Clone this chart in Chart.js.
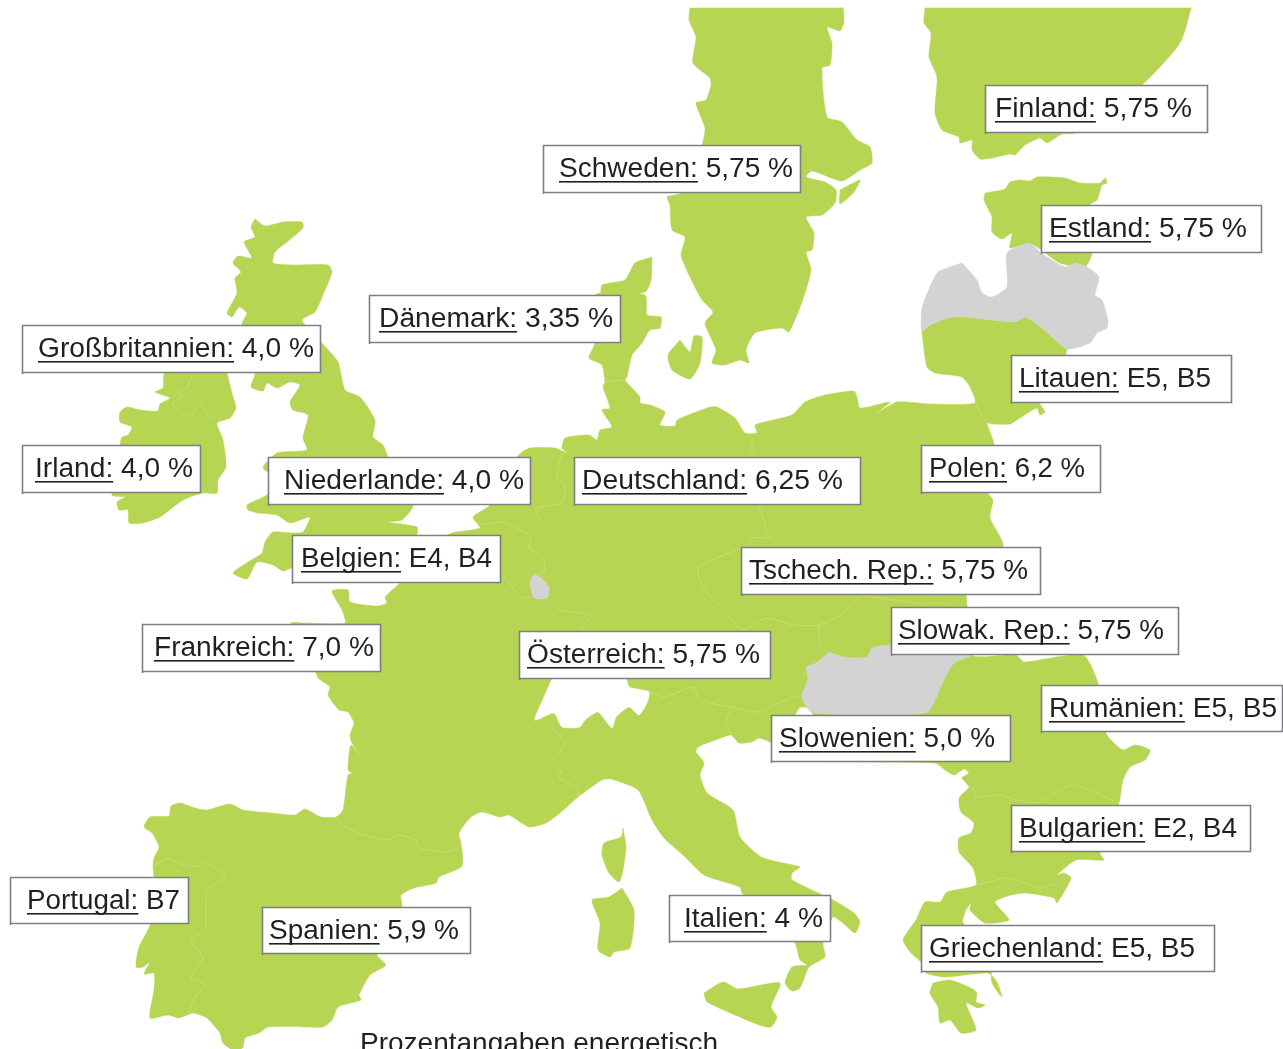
<!DOCTYPE html>
<html lang="de"><head><meta charset="utf-8">
<style>html,body{margin:0;padding:0;background:#fff;overflow:hidden}canvas{display:block}</style>
<script src="https://cdn.jsdelivr.net/npm/chart.js@4"></script>
</head><body><canvas id="c" width="1283" height="1049"></canvas>
<script>
// ---- outlines (map units = picture pixels) ----
const continent=[[605,382],[603,387],[610,408],[602,410],[612,427],[600,430],[597,440],[589,435],[565,438],[562,448],[567,453],[555,448],[530,448],[522,452],[510,465],[490,505],[473,517],[480,528],[452,533],[430,545],[400,583],[385,597],[387,603],[377,606],[350,602],[348,590],[332,591],[342,610],[345,623],[304,623],[291,623],[290,650],[316,673],[318,678],[330,687],[328,695],[339,710],[348,712],[354,723],[350,735],[352,743],[362,758],[351,745],[348,770],[352,773],[348,775],[343,810],[336,817],[321,817],[305,809],[295,815],[271,813],[243,810],[230,804],[207,810],[195,808],[180,803],[171,806],[169,816],[150,817],[144,827],[152,833],[159,847],[154,858],[153,867],[154,877],[150,925],[139,947],[136,967],[143,967],[150,962],[144,974],[154,973],[154,990],[150,1018],[168,1015],[179,1018],[193,1013],[207,1018],[216,1028],[220,1033],[223,1043],[236,1052],[243,1047],[245,1038],[259,1033],[268,1027],[307,1027],[323,1027],[332,1020],[338,1007],[361,1000],[359,995],[370,975],[386,965],[377,955],[395,930],[402,905],[401,895],[414,888],[436,883],[439,877],[462,866],[461,843],[459,833],[471,817],[482,812],[500,817],[509,815],[529,827],[546,823],[560,813],[578,797],[602,780],[611,779],[638,790],[652,820],[664,838],[683,855],[704,875],[740,887],[742,893],[770,920],[795,943],[800,960],[807,965],[792,967],[785,983],[792,991],[800,988],[809,967],[825,957],[823,943],[833,917],[845,925],[855,933],[860,922],[854,913],[833,900],[792,880],[792,873],[800,867],[783,863],[761,857],[740,837],[733,810],[707,793],[700,775],[704,763],[696,752],[698,747],[721,738],[731,735],[739,743],[752,742],[759,738],[772,743],[800,760],[935,763],[945,770],[954,775],[964,769],[969,773],[962,778],[969,787],[959,798],[961,812],[974,823],[971,833],[959,838],[959,852],[973,868],[976,885],[947,892],[940,902],[925,902],[916,920],[903,940],[911,953],[921,962],[926,973],[945,977],[988,973],[997,982],[1002,997],[992,983],[990,960],[963,923],[966,910],[971,903],[970,910],[985,923],[1009,920],[995,902],[1011,895],[1026,893],[1054,898],[1057,903],[1071,878],[1064,873],[1057,875],[1076,860],[1104,860],[1100,853],[1119,803],[1123,780],[1130,767],[1145,760],[1150,750],[1135,745],[1123,750],[1111,740],[1106,733],[1098,683],[1083,655],[1024,662],[1016,655],[972,655],[967,605],[967,593],[1003,546],[990,518],[993,500],[988,493],[994,445],[987,423],[992,424],[1010,424],[1020,418],[1037,408],[1040,415],[1045,412],[1040,403],[1067,349],[1042,328],[1025,317],[1015,322],[975,318],[952,317],[930,325],[922,332],[922,333],[927,367],[935,373],[962,377],[970,387],[975,403],[930,404],[897,402],[877,413],[890,402],[860,408],[857,397],[854,391],[825,395],[805,402],[792,415],[755,425],[757,433],[745,433],[735,418],[717,407],[710,407],[677,420],[675,426],[660,425],[665,412],[650,405],[640,403],[640,397],[625,380],[627,377],[632,355],[642,343],[650,330],[660,328],[661,317],[647,315],[645,295],[595,295],[595,343],[589,358],[602,365]];
const britain=[[255,219],[265,226],[283,222],[302,222],[303,228],[287,242],[275,252],[273,263],[293,265],[328,265],[332,272],[325,290],[315,312],[302,320],[322,343],[338,362],[345,390],[360,397],[375,420],[373,437],[383,445],[388,457],[413,505],[402,520],[388,522],[417,527],[417,535],[400,565],[292,568],[283,571],[273,565],[257,562],[247,579],[233,573],[248,562],[262,553],[265,542],[273,532],[292,533],[303,532],[310,517],[290,523],[277,515],[258,513],[248,510],[247,505],[267,495],[280,480],[263,468],[277,453],[307,450],[303,438],[308,415],[293,410],[290,402],[300,385],[290,382],[277,388],[267,383],[263,391],[251,387],[255,373],[242,324],[247,313],[239,307],[232,317],[227,313],[237,293],[235,278],[241,272],[233,263],[238,256],[252,258],[244,242],[255,237],[251,227]];
const ireland=[[227,373],[233,397],[236,408],[230,418],[217,423],[223,440],[226,467],[218,480],[217,493],[203,493],[183,500],[160,517],[143,523],[129,523],[128,510],[119,510],[117,502],[125,497],[112,495],[120,445],[122,437],[128,435],[132,427],[120,422],[120,412],[127,407],[140,410],[158,411],[160,404],[170,398],[155,392],[163,388],[165,373]];
const sweden=[[690,8],[689,20],[696,37],[693,63],[710,78],[711,85],[706,100],[696,103],[705,128],[702,145],[681,193],[675,195],[667,197],[670,205],[672,230],[685,237],[681,255],[689,275],[702,300],[713,312],[705,323],[716,350],[712,363],[725,365],[740,360],[749,363],[746,350],[755,333],[782,328],[789,332],[802,302],[811,270],[806,252],[812,250],[814,233],[806,217],[822,215],[835,203],[836,190],[825,182],[806,177],[812,171],[842,181],[860,170],[872,163],[870,147],[857,140],[842,122],[827,117],[822,68],[830,65],[832,43],[827,27],[840,31],[844,22],[843,8],[840,8],[693,8]];
const stockholmIsle=[[840,190],[860,180],[854,192],[840,204]];
const finland=[[925,8],[924,23],[931,33],[929,57],[937,77],[935,113],[942,130],[959,137],[960,143],[972,140],[972,150],[980,159],[992,158],[1010,154],[1015,155],[1025,145],[1040,138],[1047,143],[1062,134],[1075,133],[1142,85],[1180,43],[1191,8],[1188,8],[928,8]];
const estonia=[[985,193],[1005,189],[1010,182],[1020,180],[1030,181],[1037,177],[1065,178],[1080,183],[1100,183],[1105,178],[1107,183],[1102,185],[1097,200],[1090,205],[1092,253],[1085,267],[1060,263],[1030,243],[1010,248],[1012,233],[1002,239],[992,232],[992,217],[984,200]];
const zealand=[[652,257],[651,280],[645,292],[602,295],[602,285],[625,280],[635,263]];
const gotland=[[680,340],[690,352],[694,336],[702,337],[700,363],[690,379],[672,370],[668,355]];
const corsica=[[623,828],[626,847],[623,870],[619,882],[609,873],[602,855],[604,843],[621,837]];
const sardinia=[[622,888],[634,910],[630,948],[614,952],[610,957],[598,950],[600,923],[592,900],[609,897]];
const sicily=[[704,993],[723,982],[738,989],[780,983],[771,1007],[777,1017],[771,1027],[759,1025],[707,1002]];
const peloponnese=[[933,983],[950,980],[971,988],[977,993],[976,1002],[985,1005],[978,1008],[966,1003],[976,1030],[961,1033],[950,1020],[940,1023],[938,1007],[930,993]];
const latvia=[[962,263],[977,280],[982,293],[992,297],[1007,287],[1007,253],[1030,243],[1041,253],[1065,267],[1075,263],[1087,267],[1099,277],[1095,295],[1102,300],[1108,320],[1107,328],[1097,333],[1090,343],[1067,349],[1042,328],[1025,317],[1015,322],[975,318],[952,317],[930,325],[922,332],[922,308],[937,273],[950,267]];
const hungary=[[829,652],[844,657],[867,657],[872,648],[890,645],[972,655],[954,663],[944,680],[926,713],[813,713],[802,697],[808,678],[806,667],[816,663]];
const luxembourg=[[534,574],[540,577],[549,587],[547,598],[534,598],[530,583]];
const switzerland=[[552,679],[626,679],[629,687],[649,692],[647,703],[639,715],[629,707],[616,717],[612,728],[598,712],[585,720],[580,727],[562,727],[554,713],[535,720],[544,697]];
const adriaticNotch=[[795,716],[800,708],[807,708],[813,716]];
// ---- borders ----
const borderLines=[
[[334,817],[345,827],[364,835],[388,840],[398,835],[416,840],[418,847],[430,850],[446,852],[461,847]],
[[154,865],[171,858],[179,864],[198,866],[207,862],[225,878],[207,890],[205,930],[191,940],[203,958],[191,978],[205,985],[195,997],[189,1013]],
[[192,375],[187,388],[178,392],[183,397],[173,402],[175,408],[187,415],[193,413],[200,404],[210,417],[222,418]],
[[562,453],[557,477],[565,487],[562,503],[536,508],[540,520]],
[[480,525],[506,522],[516,528],[531,537],[529,548],[544,558],[544,572],[534,574]],
[[503,575],[521,597],[531,598]],
[[547,599],[559,610],[590,615],[580,630]],
[[741,548],[698,568],[703,587],[726,613],[741,630],[767,618],[793,625],[818,625],[844,613],[859,597]],
[[818,625],[821,647],[829,652]],
[[759,505],[767,537],[752,538],[747,547]],
[[767,537],[772,538]],
[[752,437],[752,455]],
[[862,595],[916,603],[949,603]],
[[649,692],[665,697],[693,687],[700,700],[731,707],[757,712],[793,697],[803,695]],
[[731,710],[726,723],[731,735]],
[[554,730],[565,743],[557,757],[551,762],[561,770],[559,778],[578,788],[578,797]],
[[973,787],[976,797],[999,795],[1016,800],[1038,802],[1073,785],[1119,803]],
[[976,885],[1009,878],[1040,888],[1057,883]],
[[975,403],[987,423]],
[[605,382],[625,380]]
];
// ---- labels ----
const countryNames=["Finland","Schweden","Estland","Dänemark","Großbritannien","Litauen","Irland","Polen","Niederlande","Deutschland","Tschech. Rep.","Belgien","Slowak. Rep.","Frankreich","Österreich","Rumänien","Slowenien","Bulgarien","Griechenland","Portugal","Spanien","Italien"];
const countryValues=["5,75 %","5,75 %","5,75 %","3,35 %","4,0 %","E5, B5","4,0 %","6,2 %","4,0 %","6,25 %","5,75 %","E4, B4","5,75 %","7,0 %","5,75 %","E5, B5","5,0 %","E2, B4","E5, B5","B7","5,9 %","4 %"];
const captionText="Prozentangaben energetisch";

// layout: box left, top, right, bottom, text left, text right
const labelLayout=[[985,85,1208,133,995,1192],[543,145,801,193,559,793],[1041,205,1262,253,1049,1247],[369,295,621,343,379,613],[22,325,321,373,38,314],[1011,355,1232,403,1019,1211],[22,445,201,493,35,193],[921,445,1101,493,929,1085],[268,457,531,505,284,524],[574,457,861,505,582,843],[741,547,1041,595,749,1028],[292,535,501,583,301,492],[891,607,1179,655,898,1164],[142,624,381,672,154,374],[519,631,771,679,527,760],[1041,685,1283,732,1049,1277],[771,715,1011,762,779,995],[1011,805,1251,852,1019,1237],[921,925,1215,972,929,1195],[10,877,189,924,27,180],[262,907,471,954,269,459],[669,895,831,942,684,823]];
const GREEN="#b6d553",GREY="#d3d3d3",LINE="#c9e07c",INK="#231f20",FONT='"Liberation Sans"';

const pts=a=>{const r=a.map(p=>({x:p[0],y:p[1]}));r.push(r[0]);return r;};
const poly=(a,c)=>({data:pts(a),showLine:true,fill:'shape',backgroundColor:c,borderColor:c,borderWidth:0.5,pointRadius:0,tension:0.2,capBezierPoints:false});
// Chart.js paints the first dataset last, so the list runs top layer first.
const datasets=[
 poly(continent,GREEN),poly(britain,GREEN),poly(ireland,GREEN),poly(sweden,GREEN),poly(stockholmIsle,GREEN),poly(finland,GREEN),poly(estonia,GREEN),poly(zealand,GREEN),poly(gotland,GREEN),poly(corsica,GREEN),poly(sardinia,GREEN),poly(sicily,GREEN),poly(peloponnese,GREEN),
 poly(switzerland,"#ffffff"),poly(adriaticNotch,"#ffffff"),
 poly(latvia,GREY),poly(hungary,GREY),poly(luxembourg,GREY),
 ...borderLines.map(b=>({data:b.map(p=>({x:p[0],y:p[1]})),showLine:true,fill:false,borderColor:LINE,borderWidth:0.8,pointRadius:0,tension:0.2}))
].reverse();
const labelPlugin={id:'labels',afterDraw(ch){
 const c=ch.ctx,X=ch.scales.x,Y=ch.scales.y;
 c.save();
 labelLayout.forEach((L,i)=>{
  const x1=X.getPixelForValue(L[0]),y1=Y.getPixelForValue(L[1]),x2=X.getPixelForValue(L[2]),y2=Y.getPixelForValue(L[3]);
  c.fillStyle="#fff";c.fillRect(x1,y1,x2-x1,y2-y1);
  c.strokeStyle="#7d7f82";c.lineWidth=1.6;
  c.beginPath();c.moveTo(x1+.5,y2+1);c.lineTo(x1+.5,y1+.5);c.lineTo(x2-.5,y1+.5);c.lineTo(x2-.5,y2-.5);c.lineTo(x1,y2-.5);c.stroke();
  const name=countryNames[i]+":",rest=" "+countryValues[i],tl=X.getPixelForValue(L[4]),tr=X.getPixelForValue(L[5]),base=y1+32;
  c.font='27px '+FONT;c.textBaseline='alphabetic';c.textAlign='left';
  const nw=c.measureText(name).width,tw=c.measureText(name+rest).width,k=(tr-tl)/tw;
  c.save();c.translate(tl,base);c.scale(k,1);c.fillStyle=INK;
  c.fillText(name+rest,0,0);
  c.fillRect(0,4,nw,1.6);
  c.restore();
 });
 c.font='28px '+FONT;c.fillStyle=INK;c.textAlign='left';
 c.fillText(captionText,X.getPixelForValue(360),Y.getPixelForValue(1052));
 c.restore();
}};
new Chart(document.getElementById('c'),{type:'scatter',data:{datasets},plugins:[labelPlugin],options:{
 responsive:false,animation:false,events:[],
 layout:{padding:0},
 plugins:{legend:{display:false},tooltip:{enabled:false},title:{display:false},filler:{propagate:false}},
 scales:{x:{type:'linear',min:0,max:1283,display:false},y:{type:'linear',min:0,max:1049,reverse:true,display:false}}
}});
</script></body></html>
